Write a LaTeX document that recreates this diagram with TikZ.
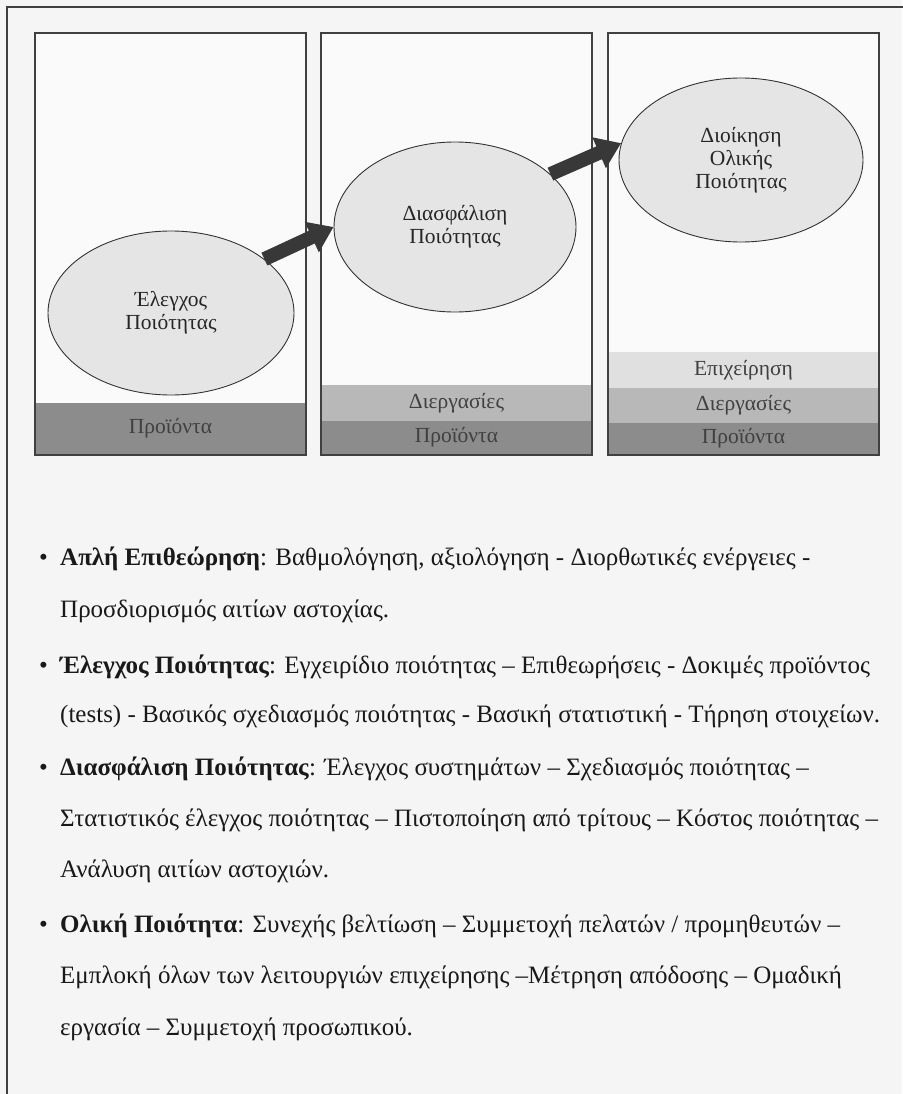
\documentclass[tikz,border=0pt]{standalone}
\usepackage{fontspec}
\setmainfont{Liberation Serif}
\usetikzlibrary{shapes.geometric,arrows.meta}
\newcommand{\ellfont}{\fontsize{21.5}{23}\selectfont}
\newcommand{\listfont}{\fontsize{25}{28}\selectfont}

\begin{document}
\begin{tikzpicture}[x=1pt, y=-1pt,
    panel/.style={draw=black!75, line width=1.5pt, fill=black!2, minimum width=271pt, minimum height=422pt, inner sep=0pt},
    stage/.style={ellipse, draw=black!80, line width=0.9pt, fill=black!10, inner sep=0pt, font=\ellfont, align=center, text=black!85},
    layer/.style={minimum width=269.5pt, inner sep=0pt, font=\ellfont, text=black!75},
    jump/.style={line width=14pt, draw=black!78, -{Triangle[width=32pt, length=24pt]}},
    item/.style={anchor=base west, font=\listfont, inner sep=0pt, text=black!90}]
    \useasboundingbox (0,0) rectangle (902,1094);
    \fill[black!4] (0,0) rectangle (902,1094);
    \draw[black!75, line width=1.5pt] (7,1100) -- (7,7) -- (910,7);

    % Panels
    \node[panel] (p1) at (170.5,244) {};
    \node[panel] (p2) at (456.5,244) {};
    \node[panel] (p3) at (743.5,244) {};

    % Layers at the bottom of each panel
    \node[layer, fill=black!45, minimum height=51.25pt] (prod1) at (170.5,428.6) {Προϊόντα};
    \node[layer, fill=black!28, minimum height=36pt] (proc2) at (456.5,403) {Διεργασίες};
    \node[layer, fill=black!45, minimum height=33.25pt] (prod2) at (456.5,437.6) {Προϊόντα};
    \node[layer, fill=black!12, minimum height=36pt] (bus3) at (743.5,370) {Επιχείρηση};
    \node[layer, fill=black!28, minimum height=35pt] (proc3) at (743.5,405.5) {Διεργασίες};
    \node[layer, fill=black!45, minimum height=31.25pt] (prod3) at (743.5,438.6) {Προϊόντα};

    % Stages
    \node[stage, minimum width=246pt, minimum height=164pt] (e1) at (171,313) {Έλεγχος\\Ποιότητας};
    \node[stage, minimum width=242pt, minimum height=170pt] (e2) at (455,227) {Διασφάλιση\\Ποιότητας};
    \node[stage, minimum width=244pt, minimum height=164pt] (e3) at (741,160) {Διοίκηση\\Ολικής\\Ποιότητας};

    \draw[jump] (e1.30) -- (e2.west);
    \draw[jump] (e2.29) -- (e3.172);

    % Bullet list
    \node[item] (b1) at (39,565) {•};
    \node[item] (l1) at (60,565) {\textbf{Απλή Επιθεώρηση}: Βαθμολόγηση, αξιολόγηση - Διορθωτικές ενέργειες -};
    \node[item] (l2) at (60,617) {Προσδιορισμός αιτίων αστοχίας.};
    \node[item] (b2) at (39,673) {•};
    \node[item] (l3) at (60,673) {\textbf{Έλεγχος Ποιότητας}: Εγχειρίδιο ποιότητας – Επιθεωρήσεις - Δοκιμές προϊόντος};
    \node[item] (l4) at (60,722) {(tests) - Βασικός σχεδιασμός ποιότητας - Βασική στατιστική - Τήρηση στοιχείων.};
    \node[item] (b3) at (39,775) {•};
    \node[item] (l5) at (60,775) {\textbf{Διασφάλιση Ποιότητας}: Έλεγχος συστημάτων – Σχεδιασμός ποιότητας –};
    \node[item] (l6) at (60,826) {Στατιστικός έλεγχος ποιότητας – Πιστοποίηση από τρίτους – Κόστος ποιότητας –};
    \node[item] (l7) at (60,877) {Ανάλυση αιτίων αστοχιών.};
    \node[item] (b4) at (39,932) {•};
    \node[item] (l8) at (60,932) {\textbf{Ολική Ποιότητα}: Συνεχής βελτίωση – Συμμετοχή πελατών / προμηθευτών –};
    \node[item] (l9) at (60,983) {Εμπλοκή όλων των λειτουργιών επιχείρησης –Μέτρηση απόδοσης – Ομαδική};
    \node[item] (l10) at (60,1035) {εργασία – Συμμετοχή προσωπικού.};
\end{tikzpicture}
\end{document}
